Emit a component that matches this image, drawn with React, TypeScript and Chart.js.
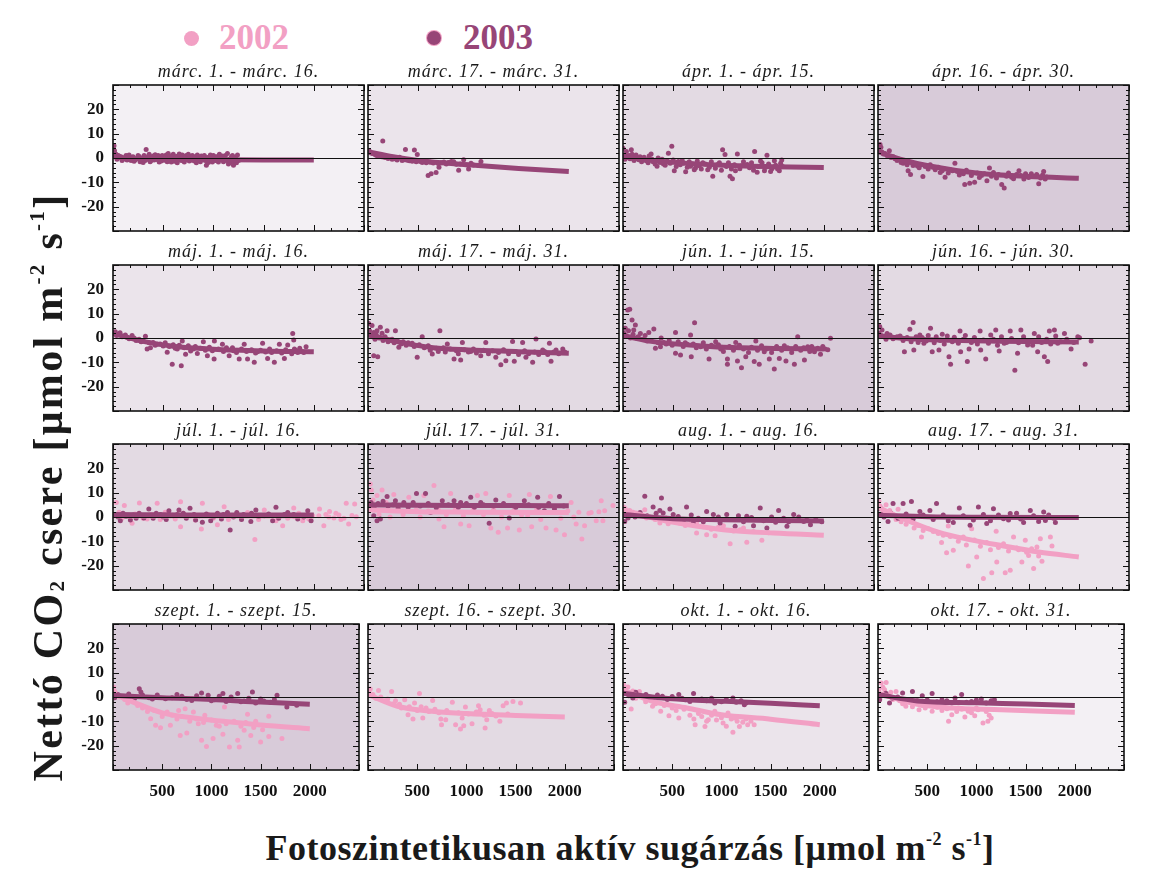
import React, { useEffect, useRef } from "react";
import { Chart, registerables } from "chart.js";
Chart.register(...registerables);

type Pt = [number, number];

const DARK = "#974577";
const PINK = "#f2a0c4";
const SERIF = '"Liberation Serif", "Times New Roman", serif';

const periods = [
  "márc. 1. - márc. 16.", "márc. 17. - márc. 31.", "ápr. 1. - ápr. 15.", "ápr. 16. - ápr. 30.",
  "máj. 1. - máj. 16.", "máj. 17. - máj. 31.", "jún. 1. - jún. 15.", "jún. 16. - jún. 30.",
  "júl. 1. - júl. 16.", "júl. 17. - júl. 31.", "aug. 1. - aug. 16.", "aug. 17. - aug. 31.",
  "szept. 1. - szept. 15.", "szept. 16. - szept. 30.", "okt. 1. - okt. 16.", "okt. 17. - okt. 31.",
];

const panelBg = [
  "#f3f0f4", "#ebe4eb", "#e3dae3", "#d8cbd9",
  "#ebe4eb", "#e3dae3", "#d8cbd9", "#e3dae3",
  "#e3dae3", "#d8cbd9", "#e3dae3", "#ebe4eb",
  "#d8cbd9", "#e3dae3", "#ebe4eb", "#f3f0f4",
];

const xTickLabels = [500, 1000, 1500, 2000];
const yTickLabels = [-20, -10, 0, 10, 20];

// ---- márc. 1-16
const p01_fit03: Pt[] = [[0,0.8],[100,0],[300,-0.4],[600,-0.6],[1000,-0.7],[1500,-0.8],[2000,-0.8]];
const p01_obs03: Pt[] = [[10,5],[15,3],[30,1.5],[50,1],[80,0.5],[100,-0.5],[130,1],[150,0],[180,-1],[200,0.5],[220,-0.8],[250,1],[270,-1.5],[290,0],[300,-1.8],[330,3.5],[350,0.5],[380,-1],[400,0.8],[430,-0.5],[450,1],[480,-1.2],[500,0.3],[530,1.2],[560,-0.8],[600,1.5],[620,-0.5],[650,0.8],[680,-1],[700,0.5],[730,1],[760,-1.2],[800,0],[830,-2],[860,0.5],[900,-0.5],[930,-3],[960,0.3],[1000,1],[1030,-0.8],[1070,0],[1100,-1.5],[1120,1],[1150,-2.5],[1180,0.5],[1200,-3],[1220,0.3],[1250,-1],
  [40,-0.5],[60,0.8],[90,-1],[120,0.2],[140,-0.8],[160,1.2],[190,0.3],[210,-1.3],[240,-0.2],[260,0.6],[280,-0.7],[310,1],[320,-1],[340,-0.3],[360,1.5],[370,-1.5],[390,0.2],[410,-0.8],[420,1.3],[440,0],[460,-1.6],[470,0.6],[490,1],[510,-0.9],[520,0.2],[540,-1.5],[550,1.8],[570,0.4],[580,-1.6],[590,0.9],[610,-1.3],[630,0.6],[640,-2],[660,1.6],[670,-0.2],[690,1.2],[710,-1.6],[720,0.2],[740,-0.6],[750,1.5],[770,0.4],[780,-0.8],[790,1],[810,-1.2],[820,0.5],[840,1.2],[850,-0.6],[870,-1.5],[880,0.8],[890,-0.2],[910,1],[920,-1],[940,0.2],[950,-1.8],[970,1.2],[980,-0.4],[990,-1.6],[1010,0.5],[1020,-1],[1040,0.6],[1050,-1.6],[1060,1.5],[1080,-0.5],[1090,0.8],[1110,-0.2],[1130,-1],[1140,1.8],[1160,-0.4],[1170,-1.8],[1190,1],[1210,-1.2],[1230,-2],[1240,1.2]];
// ---- márc. 17-31
const p02_fit03: Pt[] = [[0,2.6],[250,0.5],[500,-1],[1000,-2.8],[1500,-4.3],[2000,-5.5]];
const p02_obs03: Pt[] = [[20,2.3],[69,1.4],[118,1],[147,7],[216,0.5],[314,0.3],[373,3.5],[412,-1.1],[462,3.3],[491,1.4],[560,-1.1],[599,-7.2],[629,-6.5],[678,-6],[707,-3.8],[756,-1.6],[830,-1.4],[854,-1.5],[903,-5],[953,-0.7],[1002,-4.5],[1026,-2.2],[1125,-1.4],
  [10,3],[35,2],[50,1.8],[85,1],[100,0.8],[135,0.5],[160,0.3],[180,0.2],[200,-0.2],[240,-0.5],[260,-0.3],[290,-0.8],[340,-1],[360,-0.7],[390,-0.9],[440,-1.3],[480,-1.5],[520,-1.4],[540,-1.8],[580,-2],[620,-1.7],[650,-2.1],[700,-2.3],[730,-2],[780,-2.5],[800,-1.9],[880,-2.6],[920,-2.5],[980,-2.8],[1050,-2.9],[1100,-3]];
// ---- ápr. 1-15
const p03_fit03: Pt[] = [[0,0.5],[250,-0.8],[500,-1.8],[1000,-3],[1500,-3.6],[2000,-3.9]];
const p03_obs03: Pt[] = [[0,4],[34,2.7],[83,3.4],[60,1],[120,0.5],[157,-0.7],[200,-0.2],[231,-1.1],[280,1.6],[300,-1.5],[339,-3.4],[403,-2.5],[452,2],[486,4.8],[511,-5.2],[550,-1.4],[600,-2.2],[624,-5.7],[673,-3.4],[722,-4.1],[795,-2],[844,-4.8],[894,-7.5],[943,-2.7],[992,3.4],[1016,1.4],[1066,-7.5],[1090,-8.5],[1139,1.6],[1164,-4.4],[1237,-2.7],[1311,2.7],[1336,-5.9],[1385,-2],[1409,-5.2],[1434,1.1],[1483,-4.4],[1508,-1.1],[1557,-5.2],[1581,-0.8],
  [10,1],[20,-0.5],[40,0.8],[70,-0.3],[90,1.5],[110,-1],[130,1.2],[145,-0.2],[170,0.5],[185,-1.5],[210,0.3],[250,-2],[260,0.8],[290,-0.5],[320,-2.5],[350,0],[370,-1.8],[390,-0.5],[420,-3],[440,-1.2],[470,-2.2],[500,-0.8],[530,-3.5],[570,-2.8],[590,-1],[640,-3.8],[660,-1.5],[690,-2.5],[710,-4.8],[740,-1.2],[760,-3.2],[780,-4.5],[820,-2.5],[860,-3.8],[880,-1.5],[920,-4.2],[960,-2],[980,-5],[1030,-3.5],[1050,-2],[1080,-4.5],[1110,-2.8],[1120,-5.2],[1180,-3.2],[1200,-1.5],[1260,-4],[1280,-2],[1300,-5],[1350,-3.5],[1370,-1.2],[1420,-3.8],[1450,-2.5],[1470,-5.5],[1520,-3],[1540,-4.5],[1570,-2.2],[1590,-3.5]];
// ---- ápr. 16-30
const p04_fit03: Pt[] = [[0,2.6],[250,-0.8],[500,-3.2],[1000,-6.3],[1500,-7.6],[2000,-8.3]];
const p04_obs03: Pt[] = [[20,5.5],[29,4.4],[54,1.6],[113,3],[152,0.5],[250,-2.2],[300,-5.2],[324,-6.8],[349,-3.1],[393,-3.3],[447,-7.6],[545,-3.8],[638,-5.2],[668,-7.9],[741,-5.2],[766,-2.2],[834,-5.9],[864,-10.9],[913,-10.4],[962,-10],[1031,-7.2],[1085,-9.3],[1110,-4.1],[1232,-10.9],[1257,-12.3],[1331,-7.9],[1380,-6.8],[1404,-5.2],[1453,-8.6],[1527,-6.5],[1601,-10.6],[1650,-5.5],[1665,-8.6],
  [10,3],[40,2.5],[70,1.8],[90,1],[130,0.2],[170,-0.3],[190,-1],[210,-0.5],[230,-1.8],[270,-1.2],[290,-2.8],[320,-1.8],[370,-2.5],[410,-4],[430,-2.8],[470,-3.5],[500,-4.5],[520,-2.8],[570,-4.8],[600,-3.8],[620,-6],[660,-4.5],[700,-6.2],[720,-4.8],[790,-5.5],[810,-7],[850,-6.5],[880,-5],[930,-7.2],[990,-6.2],[1010,-8],[1060,-6.5],[1130,-7.5],[1150,-6],[1180,-8.2],[1200,-6.8],[1280,-7.5],[1300,-6.2],[1350,-8.5],[1420,-7.2],[1470,-6.5],[1500,-8],[1550,-7.5],[1580,-6.8],[1620,-8.2],[1640,-7],[1680,-7.8]];
// ---- máj. 1-16
const p05_fit03: Pt[] = [[0,1.9],[300,-1.4],[600,-3.4],[1000,-4.6],[1500,-5.3],[2000,-5.6]];
const p05_obs03: Pt[] = [[23,2.6],[57,1.5],[123,1.2],[190,1],[323,0.7],[340,-4.5],[373,-4],[440,-2.6],[540,-5.9],[590,-10.8],[640,-4.5],[680,-11.4],[690,-1.2],[723,-6.7],[773,-5.3],[840,-6.4],[900,-1.5],[940,-7.3],[1007,-8.6],[1010,-1.2],[1090,-2.6],[1157,-7.3],[1190,-4],[1257,-8.6],[1307,-2.6],[1340,-8.6],[1407,-10],[1440,-5.6],[1490,-2.2],[1540,-8.4],[1607,-10],[1657,-2.6],[1707,-8.4],[1740,-2.9],[1790,1.9],[1800,-0.8],[1807,-4.5],[1923,-3.6],
  [10,2],[35,1],[70,2.2],[90,0.5],[140,0.3],[160,-0.3],[210,0],[230,-1],[260,-0.5],[280,-1.5],[300,-1],[360,-2],[400,-1.8],[420,-3],[470,-2.5],[500,-3.3],[520,-2],[560,-3.5],[600,-2.8],[620,-4.2],[660,-3],[710,-4],[750,-3.2],[800,-4.5],[820,-3.5],[870,-4.2],[920,-5],[960,-3.8],[990,-5.2],[1050,-4.5],[1100,-5.5],[1130,-4],[1200,-5.2],[1230,-6],[1280,-4.5],[1330,-5.5],[1380,-4.8],[1420,-6.2],[1470,-5],[1520,-5.8],[1560,-4.5],[1580,-6],[1630,-5.2],[1680,-6.2],[1720,-4.8],[1760,-5.5],[1780,-6.5],[1820,-5],[1840,-6],[1860,-4.2],[1880,-5.5],[1900,-6]];
// ---- máj. 17-31
const p06_fit03: Pt[] = [[0,1.5],[300,-1.6],[650,-4],[1000,-4.9],[1500,-5.6],[2000,-6.3]];
const p06_obs03: Pt[] = [[7,6],[40,5.1],[57,2.3],[57,-7.3],[90,3],[97,-7.7],[123,4.4],[190,3],[223,-0.8],[273,3],[307,-3.8],[440,-2.2],[490,-7.9],[540,0.5],[640,-6.6],[716,3],[790,-2.5],[857,-8.6],[923,-9],[940,-1.8],[1023,-5.5],[1123,-7.3],[1173,-1.8],[1273,-7.9],[1323,-11],[1373,-9.3],[1440,-1.4],[1457,-9.6],[1540,-1.8],[1573,-7.9],[1640,-10],[1673,-0.4],[1740,-4.9],[1807,-2.2],[1823,-9.6],[1873,-4.9],[1940,-4.5],
  [15,3],[25,1],[45,0.5],[70,-0.5],[80,1.5],[110,0],[140,2],[150,-1],[170,0.5],[200,-1.5],[240,-0.5],[260,-2],[290,-1],[330,-2.5],[350,-1.5],[380,-3],[400,-2],[460,-3.5],[510,-2.8],[560,-4],[600,-3.2],[620,-5],[680,-4.2],[700,-5.5],[750,-4],[770,-5.8],[820,-4.5],[880,-5.2],[900,-6.5],[960,-4.8],[1000,-5.8],[1050,-4.5],[1080,-6.2],[1150,-5],[1200,-6.5],[1240,-5.2],[1300,-6],[1350,-4.8],[1400,-6.5],[1470,-5.5],[1500,-6.8],[1560,-5.2],[1600,-6.5],[1660,-5.8],[1700,-6.8],[1760,-5.5],[1790,-6.8],[1850,-5.8],[1900,-6.5],[1960,-5.8]];
// ---- jún. 1-15
const p07_fit03: Pt[] = [[0,1],[300,-1.5],[700,-3],[1000,-3.8],[1500,-4.3],[2000,-4.5]];
const p07_obs03: Pt[] = [[23,4],[47,11.5],[67,11.8],[90,7.4],[107,3.3],[123,5.3],[140,-0.1],[173,1.9],[240,-1.2],[257,2.3],[307,3.7],[323,-4.2],[373,-3.6],[407,-1.8],[523,2.3],[523,-6.3],[573,-7],[640,-2.6],[673,1.2],[680,-7.7],[713,6.3],[773,-3.6],[857,-8.6],[923,-1.5],[973,-4.5],[1040,-8.6],[1040,-10.8],[1123,-1.8],[1140,-9.5],[1180,-12.2],[1223,-7.7],[1307,-9.7],[1323,-1.2],[1357,-10.8],[1407,-5.6],[1457,-8.6],[1507,-12.7],[1557,-8.4],[1607,-3.2],[1623,-9.5],[1707,-10.8],[1740,0.5],[1807,-9],[1840,-3.6],[1907,-5.6],[1967,-6.7],[2013,-4.5],[2067,-0.1],
  [10,2],[30,1],[55,3],[75,0],[100,1.5],[150,0.5],[200,-0.5],[220,1],[280,-1],[350,-2],[380,0],[430,-2.5],[460,-1],[490,-3],[550,-1.5],[600,-3.5],[620,-2],[700,-2.5],[730,-4],[800,-2],[830,-4.5],[880,-3],[950,-2.8],[1000,-5.5],[1060,-3.5],[1100,-5],[1160,-3],[1200,-4.5],[1250,-6],[1280,-3.8],[1340,-5],[1380,-3.2],[1430,-4.5],[1480,-6],[1530,-3.5],[1580,-5],[1640,-4],[1680,-6],[1720,-3.5],[1770,-5],[1800,-4],[1860,-5.5],[1880,-3.5],[1940,-4.2],[1990,-3.5],[2040,-4.8]];
// ---- jún. 16-30
const p08_fit03: Pt[] = [[0,1],[300,-0.3],[700,-0.9],[1200,-1.3],[2000,-1.6]];
const p08_obs03: Pt[] = [[17,4.7],[40,3.3],[90,1.9],[190,0.5],[263,-5.6],[317,3.6],[350,6.4],[357,-4.9],[417,1.2],[457,-2.2],[523,4],[540,-5.6],[607,-4.9],[640,1.5],[707,-7.7],[723,-10.8],[817,2.9],[823,-5.6],[890,-9.7],[907,-4.5],[1017,2.9],[1023,-4.9],[1073,-8.6],[1123,1.2],[1173,3.3],[1207,-5.3],[1257,-2.2],[1317,2.9],[1363,-13.3],[1390,-6.3],[1423,3.3],[1490,-2.9],[1557,1.9],[1590,-5.6],[1657,-7.7],[1690,-9.7],[1707,2.9],[1757,3.3],[1790,-2.2],[1857,1.9],[1923,-4.5],[2007,0.1],[2063,-10.8],[2123,-1.2],
  [10,2],[30,1],[60,0.5],[80,-0.5],[120,1.2],[150,-0.3],[220,0.8],[250,-1],[290,0.2],[330,-1.5],[380,0.5],[400,-1.8],[440,0.2],[480,-1.2],[500,1],[560,-2],[580,0.5],[620,-1],[660,-2.5],[690,0.8],[740,-1.5],[760,0.3],[800,-2.2],[850,-0.5],[870,1],[930,-1.8],[960,0.2],[990,-2.5],[1050,-0.8],[1100,-2.2],[1150,-0.5],[1190,-3],[1230,0.5],[1280,-1.8],[1330,-0.2],[1400,-2],[1450,0.5],[1520,-1.5],[1540,-3],[1600,0.5],[1630,-1.8],[1680,-0.5],[1720,-2.5],[1770,0.8],[1820,-1.5],[1880,-0.5],[1950,-1.8],[1990,0.5]];
// ---- júl. 1-16
const p09_fit03: Pt[] = [[0,1],[500,0.9],[1000,0.8],[1500,0.8],[2000,0.8]];
const p09_obs03: Pt[] = [[73,-1.5],[173,-1.2],[307,-0.4],[357,3.3],[473,1],[557,2.6],[640,1],[657,2.9],[767,3.6],[807,1],[823,-1.2],[890,-2.2],[973,-1.5],[1040,1.5],[1140,1.9],[1167,-5.3],[1233,1.9],[1373,-1.8],[1380,1.5],[1423,2.9],[1507,0.5],[1590,-1.5],[1623,4],[1707,1],[1740,1.9],[1840,-0.8],[1940,2.6],[1973,-1.5],
  [20,1],[50,0],[100,1.5],[130,0.2],[200,0.8],[230,-0.5],[260,1.5],[330,0.5],[400,-0.5],[430,1.5],[500,0],[530,-1],[600,0.5],[700,1.5],[730,-0.5],[860,0.5],[930,1.2],[1000,0],[1080,-0.8],[1100,1],[1200,0],[1280,-1],[1300,1],[1450,0.2],[1550,1.2],[1650,-0.5],[1800,1],[1900,0]];
const p09_fit02: Pt[] = [[0,0.5],[1000,0.4],[2000,0.4]];
const p09_obs02: Pt[] = [[33,6],[113,4.7],[173,-0.4],[190,-2.6],[263,5.8],[340,-0.8],[440,5.6],[573,0.5],[673,6.3],[673,-4],[773,0.5],[880,-4.9],[890,5.6],[1040,-3.2],[1107,4.2],[1233,1.2],[1340,1.9],[1413,-9.2],[1507,2.9],[1623,-1.5],[1690,-3.6],[1800,3.7],[1807,0.1],[1890,-1.5],[1990,0.5],[2050,0.5],[2057,3.3],[2100,-3.6],[2120,1],[2157,2.3],[2200,-0.4],[2250,0.8],[2300,-0.5],[2323,5.6],[2347,-2.9],[2380,0.6],[2407,5.3],[2423,0.1],
  [10,1],[60,2],[90,-0.5],[140,0.8],[220,1.2],[300,-0.5],[380,1],[470,-1],[520,2],[620,-0.8],[700,1.5],[820,-1.2],[950,1],[1000,-0.5],[1150,-1],[1280,-0.2],[1450,-1],[1550,1],[1650,0.5],[1740,-0.5],[1850,1.5],[1950,-0.8],[2150,0],[2220,1.5],[2270,-1]];
// ---- júl. 17-31
const p10_fit03: Pt[] = [[0,5],[500,4.8],[1000,4.7],[1500,4.7],[2000,4.6]];
const p10_obs03: Pt[] = [[23,3.3],[57,0.5],[90,-1.5],[123,-0.8],[190,8.4],[273,6.7],[357,6],[483,9.7],[573,9.7],[623,1.9],[740,6.7],[857,6.7],[923,6],[1023,8.1],[1123,6],[1207,-2.6],[1273,7],[1407,-0.4],[1473,4],[1557,6.7],[1690,8.1],[1757,2.6],[1857,3.3],[1907,8.4],
  [30,6],[60,4],[100,5.5],[150,6.5],[200,4.5],[250,5],[300,3.5],[400,4],[450,6],[520,4.5],[600,5.5],[680,3.8],[800,5],[900,4],[980,5.5],[1060,4],[1150,5],[1250,4.5],[1350,5.5],[1450,4.5],[1600,5],[1700,4],[1800,5.5],[1950,4.5]];
const p10_fit02: Pt[] = [[0,3],[500,2.2],[1000,2],[2000,1.8]];
const p10_obs02: Pt[] = [[23,13.6],[33,11.1],[90,8.8],[140,11.1],[257,9.2],[407,8.1],[423,2.3],[557,8.8],[640,4.7],[657,12.9],[707,-0.8],[757,-4],[823,9.7],[923,-2.9],[1007,-3.6],[1090,8.8],[1090,1.9],[1173,9.7],[1223,-4.5],[1297,-6.3],[1390,-4.5],[1407,8.8],[1507,-5.3],[1590,0.5],[1607,9.2],[1630,-4],[1773,-4.5],[1817,8.4],[1873,-5.3],[1957,-7.3],[2023,6],[2073,-2.9],[2100,2],[2130,-9],[2157,-3.6],[2200,1.5],[2223,1.9],[2273,-1.5],[2300,2.2],[2323,6.7],[2340,-1.5],[2357,2.6],[2440,4.7],
  [10,5],[50,7],[70,3],[110,1],[180,6],[220,0],[300,4],[350,1],[480,3],[520,0],[600,2.5],[700,3],[780,1],[870,3],[950,0.5],[1050,3.5],[1150,1],[1250,3],[1330,0],[1450,2.5],[1530,0.8],[1680,3],[1720,-1],[1850,2],[1920,-0.5],[1990,2.5],[2050,0]];
// ---- aug. 1-16
const p11_fit03: Pt[] = [[0,1],[500,-0.7],[1000,-1.1],[1500,-1.4],[2000,-1.6]];
const p11_obs03: Pt[] = [[17,-1.8],[50,-0.4],[217,8.5],[300,4.1],[367,2.7],[383,7.8],[400,1.6],[467,3.3],[500,1],[633,4.1],[700,-2.5],[833,2.3],[900,1],[967,-2.5],[1033,1],[1117,-3.8],[1233,0.3],[1300,-3.6],[1367,3.7],[1433,-4.5],[1550,2.7],[1633,-3.8],[1700,1],[1800,-1.8],[1867,-3.2],
  [30,0.5],[80,1.5],[120,0],[170,1.8],[240,0.5],[330,1.5],[430,-0.5],[550,0.2],[600,-1.5],[680,0.8],[750,-0.5],[800,-2],[950,0],[1080,-1],[1150,0.5],[1200,-2],[1280,-0.2],[1400,-1.5],[1480,0],[1520,-2.2],[1600,-0.5],[1650,-2],[1750,0],[1830,-1.2],[1920,-1],[1980,-2]];
const p11_fit02: Pt[] = [[0,3],[300,-0.4],[650,-3.2],[1000,-5.2],[1500,-6.6],[2000,-7.5]];
const p11_obs02: Pt[] = [[7,4.1],[67,2.7],[133,1.6],[217,3],[233,-0.4],[367,-2.5],[500,-1.1],[733,-6.6],[733,-2.5],[833,-7.3],[917,-7.7],[1000,-3.6],[1067,-11],[1167,-5.2],[1233,-10.4],[1383,-9.6],
  [20,3.5],[40,1.8],[100,2],[150,0.5],[180,1.2],[270,0],[320,-1],[420,-1.5],[450,-2.8],[560,-2.5],[620,-3.5],[680,-2.2],[800,-4],[880,-5],[950,-4.2],[1100,-5.8],[1200,-4.5],[1300,-6],[1450,-6.5]];
// ---- aug. 17-31
const p12_fit03: Pt[] = [[0,0.7],[500,0.1],[1000,-0.1],[2000,-0.2]];
const p12_obs03: Pt[] = [[17,3.4],[100,-1.8],[150,5.5],[250,5.5],[333,6.4],[417,2.3],[517,2.7],[583,5.5],[750,-2.3],[810,3.7],[917,-3.4],[1000,4.1],[1083,-2.7],[1150,3.4],[1250,-0.7],[1317,1.4],[1450,-2.3],[1517,2.7],[1650,2.1],[1667,-1.4],[1767,-2.3],
  [30,1],[60,0],[130,1.5],[200,-0.5],[280,1.2],[350,-0.8],[450,0.8],[550,-1],[650,0.8],[700,-1.5],[850,0.5],[950,-1.2],[1050,1],[1120,-1.5],[1200,0.8],[1300,-1.2],[1380,1.5],[1420,-0.8],[1550,0.5],[1600,-1.8],[1700,0.8],[1750,-0.5]];
const p12_fit02: Pt[] = [[0,4],[250,-0.7],[600,-6.2],[900,-9.2],[1250,-11.9],[1600,-14.4],[2000,-16.4]];
const p12_obs02: Pt[] = [[10,6.4],[33,3.7],[117,2.7],[200,3.2],[433,-8.2],[500,-4.8],[600,-6.8],[633,-10.5],[683,-14.7],[700,-3.7],[750,-13.7],[850,-8.2],[900,-20.1],[933,-4.8],[983,-16.4],[1050,-25.3],[1083,-10.5],[1133,-22.9],[1177,-5.9],[1183,-18.5],[1250,-11],[1267,-22.9],[1317,-21.9],[1350,-8.2],[1383,-12.7],[1433,-18.5],[1467,-9.6],[1500,-15.8],[1550,-21.2],[1583,-12.3],[1617,-8.9],[1633,-18.2],[1717,-8.2],[1733,-11.9],
  [20,4.5],[50,2],[80,5],[150,1],[180,-1],[230,-2],[280,-3],[320,-1.5],[360,-4.5],[400,-3.5],[450,-5.5],[550,-6],[650,-7.5],[720,-8],[800,-10],[880,-11.5],[960,-9.5],[1020,-12],[1120,-13.5],[1200,-12.5],[1300,-14],[1400,-13.5],[1480,-14.5],[1530,-13],[1600,-16]];
// ---- szept. 1-15
const p13_fit03: Pt[] = [[0,0.7],[500,-0.3],[1000,-1],[1500,-2.1],[2000,-3]];
const p13_obs03: Pt[] = [[17,-0.3],[267,3.4],[283,2.1],[367,-0.3],[533,-0.7],[700,0.3],[800,-1.4],[900,1.6],[967,0.7],[1033,-1.1],[1117,1.4],[1267,1.4],[1333,-1.6],[1417,2.1],[1533,-1.6],[1667,0.7],[1767,-4.1],[1867,-3.4],
  [50,1],[100,0],[160,1.2],[220,-0.5],[300,0.8],[400,-0.8],[450,0.8],[600,-0.3],[650,1],[750,-1],[850,0.5],[1000,-1.5],[1080,0.3],[1150,-1.8],[1200,0],[1300,-2],[1380,-0.5],[1450,-2.5],[1500,-0.8],[1600,-2.2],[1640,-1]];
const p13_fit02: Pt[] = [[0,1.4],[200,-2],[500,-6.5],[900,-9],[1200,-10.3],[1500,-11.5],[2000,-13]];
const p13_obs02: Pt[] = [[7,4.1],[27,1.6],[200,-1.1],[383,-8.9],[433,-11.6],[483,-12.6],[550,-6.2],[583,-11.6],[667,-5.5],[683,-15.8],[733,-4.8],[750,-14.8],[817,-6.2],[867,-11],[900,-17.8],[933,-7.5],[950,-20.3],[1017,-17.1],[1050,-11.6],[1117,-15.3],[1133,-4.1],[1183,-20.5],[1200,-1.4],[1267,-17.8],[1283,-20.5],[1333,-13.7],[1367,-7.1],[1400,-15.8],[1500,-18.5],[1583,-7.9],[1583,-16.2],[1717,-17.1],
  [15,2.5],[60,0],[120,-1],[150,-2.5],[250,-3.5],[300,-4.5],[350,-6],[420,-5.5],[500,-8],[600,-7.5],[650,-9],[700,-8],[780,-10],[850,-9],[920,-10.5],[1000,-9.5],[1080,-12],[1150,-11],[1230,-10],[1300,-12],[1350,-10.5],[1430,-12.5],[1450,-10],[1520,-13.5]];
// ---- szept. 16-30
const p14_fit02: Pt[] = [[0,1],[300,-3.8],[650,-5.9],[1000,-6.8],[1500,-7.6],[2000,-8.2]];
const p14_obs02: Pt[] = [[23,3.3],[107,2.7],[240,2.3],[373,-1.1],[407,-7.3],[457,-9],[473,-2.5],[523,1.4],[557,-8.6],[590,-4.5],[657,-1.4],[740,-9],[747,-11.4],[790,-9.3],[857,-2.2],[890,-11.4],[940,-13.2],[957,-8.6],[973,-11.8],[990,-4.1],[1057,-11],[1123,-3.6],[1140,-5.2],[1190,-12.7],[1207,-9.3],[1233,-5.5],[1340,-10],[1373,-3.6],[1407,-2.5],[1473,-1.8],[1550,-2.5],
  [10,2],[50,1],[80,-0.5],[130,0],[170,-1.5],[200,-0.8],[260,-2.8],[280,-1.5],[320,-3],[340,-4.5],[420,-4],[500,-5.5],[540,-4],[620,-6],[680,-5],[720,-6.5],[800,-5.5],[920,-6.5],[1020,-7],[1100,-6.2],[1180,-7.5],[1260,-6.8],[1300,-7.8],[1420,-7]];
// ---- okt. 1-16
const p15_fit03: Pt[] = [[0,1.6],[300,0],[650,-1.1],[1000,-1.7],[1500,-2.6],[2000,-3.6]];
const p15_obs03: Pt[] = [[17,-2.2],[100,-0.4],[233,1],[400,0.3],[567,1],[633,-1.1],[717,1.4],[800,-0.8],[933,-2.5],[1117,-0.4],[1233,-3.2],
  [30,1.5],[60,0.5],[130,2],[170,0.5],[300,-0.5],[350,0.8],[450,-1],[500,0.2],[600,-0.5],[680,-1.8],[750,-1],[850,-1.5],[900,-0.5],[1000,-2],[1050,-1],[1150,-2.2],[1200,-1.5],[1250,-2.5]];
const p15_fit02: Pt[] = [[0,3],[300,-1.8],[650,-4.5],[1000,-7.3],[1500,-9.1],[2000,-11.4]];
const p15_obs02: Pt[] = [[7,5.1],[50,4.1],[83,-4.9],[167,2.3],[300,-3.8],[383,-5.9],[467,-7.7],[567,-8.6],[733,-11.4],[767,-6.8],[833,-12.1],[867,-9.3],[933,-5.9],[1017,-10.7],[1067,-6.6],[1117,-14.5],[1133,-8.6],[1183,-12.1],[1217,-10.4],[1267,-11.4],[1333,-11.4],
  [15,3.5],[30,2],[70,1],[100,2.5],[130,-0.5],[200,0],[230,-2],[260,-1],[330,-2.8],[420,-3.5],[500,-4.5],[540,-5.5],[620,-5],[680,-7.5],[720,-9],[800,-8],[850,-10],[900,-7.5],[950,-9.5],[1000,-8.5],[1050,-12],[1100,-9],[1160,-10],[1250,-9],[1300,-10]];
// ---- okt. 17-31
const p16_fit03: Pt[] = [[0,1],[400,-1.6],[1000,-2.4],[1500,-2.9],[2000,-3.5]];
const p16_obs03: Pt[] = [[17,-1.1],[117,-2.5],[250,1.6],[350,2.3],[550,1.4],[650,-1.1],[750,-2.5],[783,-0.4],[850,1],[950,-1.8],[1050,-0.8],[1183,-1.1],
  [40,0.5],[80,1.5],[150,-0.5],[200,0],[300,-1],[400,-1.5],[450,0.5],[500,-1.2],[600,-2],[700,-1.5],[900,-2.2],[1000,-1.2],[1100,-2.5],[1150,-1.5]];
const p16_fit02: Pt[] = [[0,1.6],[400,-3],[750,-4.5],[1250,-5.2],[2000,-6.3]];
const p16_obs02: Pt[] = [[33,5.8],[67,3],[83,6],[183,2.3],[283,-3.8],[417,-5.2],[550,-5.9],[583,-2.5],[717,-10],[750,-7.3],[817,-4.5],[883,-8.2],[917,-5.9],[983,-7.7],[1017,-5.2],[1067,-10.7],[1117,-10],[1150,-8.6],
  [10,3],[20,1],[50,4],[100,0.5],[130,2],[150,-1],[220,-1.5],[250,-2.8],[320,-2],[350,-4],[450,-3.5],[480,-4.5],[600,-4.2],[650,-5.5],[700,-4.8],[800,-6],[850,-5],[950,-6.5],[1000,-4.5],[1100,-6],[1130,-7.5]];

const fit2003: (Pt[] | null)[] = [p01_fit03, p02_fit03, p03_fit03, p04_fit03, p05_fit03, p06_fit03, p07_fit03, p08_fit03, p09_fit03, p10_fit03, p11_fit03, p12_fit03, p13_fit03, null, p15_fit03, p16_fit03];
const obs2003: (Pt[] | null)[] = [p01_obs03, p02_obs03, p03_obs03, p04_obs03, p05_obs03, p06_obs03, p07_obs03, p08_obs03, p09_obs03, p10_obs03, p11_obs03, p12_obs03, p13_obs03, null, p15_obs03, p16_obs03];
const fit2002: (Pt[] | null)[] = [null, null, null, null, null, null, null, null, p09_fit02, p10_fit02, p11_fit02, p12_fit02, p13_fit02, p14_fit02, p15_fit02, p16_fit02];
const obs2002: (Pt[] | null)[] = [null, null, null, null, null, null, null, null, p09_obs02, p10_obs02, p11_obs02, p12_obs02, p13_obs02, p14_obs02, p15_obs02, p16_obs02];

const PANEL_LEFT = [113, 368, 623, 878];
const PANEL_TOP = [85, 265, 444, 624];
const PW = 251, PH = 146;
const ML = 60, MT = 28, MR = 6, MB = 42;

function Panel({ idx }: { idx: number }) {
  const ref = useRef<HTMLCanvasElement>(null);
  const row = Math.floor(idx / 4), col = idx % 4;
  useEffect(() => {
    if (!ref.current) return;
    const toXY = (a: Pt[]) => a.map(([x, y]) => ({ x, y }));
    const datasets: any[] = [];
    const f3 = fit2003[idx], f2 = fit2002[idx], o3 = obs2003[idx], o2 = obs2002[idx];
    if (f3) datasets.push({ type: "line", data: toXY(f3), borderColor: DARK, borderWidth: 5, pointRadius: 0, cubicInterpolationMode: "monotone", order: 0 });
    if (f2) datasets.push({ type: "line", data: toXY(f2), borderColor: PINK, borderWidth: 5, pointRadius: 0, cubicInterpolationMode: "monotone", order: 1 });
    if (o3) datasets.push({ type: "scatter", data: toXY(o3), backgroundColor: DARK, pointRadius: 2.5, pointBorderWidth: 0, order: 2 });
    if (o2) datasets.push({ type: "scatter", data: toXY(o2), backgroundColor: PINK, pointRadius: 2.5, pointBorderWidth: 0, order: 3 });

    const deco = {
      id: "deco",
      beforeDatasetsDraw(chart: any) {
        const { ctx, chartArea: a } = chart;
        ctx.save();
        ctx.fillStyle = panelBg[idx];
        ctx.fillRect(a.left, a.top, a.right - a.left, a.bottom - a.top);
        ctx.restore();
      },
      afterDatasetsDraw(chart: any) {
        const { ctx, chartArea: a } = chart;
        const xs = chart.scales.x, ys = chart.scales.y;
        ctx.save();
        ctx.strokeStyle = "#111";
        ctx.lineWidth = 1;
        const y0 = Math.round(ys.getPixelForValue(0)) + 0.5;
        ctx.beginPath(); ctx.moveTo(a.left, y0); ctx.lineTo(a.right, y0); ctx.stroke();
        ctx.beginPath();
        for (let k = 0; k <= 15; k++) {
          const px = Math.round(xs.getPixelForValue((k * 500) / 3)) + 0.5;
          const len = k % 3 === 0 ? 6 : 3;
          ctx.moveTo(px, a.bottom); ctx.lineTo(px, a.bottom - len);
          ctx.moveTo(px, a.top); ctx.lineTo(px, a.top + len);
        }
        for (let v = -30; v <= 30; v += 2) {
          const py = Math.round(ys.getPixelForValue(v)) + 0.5;
          const len = v % 10 === 0 ? 6 : 3;
          ctx.moveTo(a.left, py); ctx.lineTo(a.left + len, py);
          ctx.moveTo(a.right, py); ctx.lineTo(a.right - len, py);
        }
        ctx.stroke();
        ctx.lineWidth = 1.6;
        ctx.strokeRect(a.left, a.top, a.right - a.left, a.bottom - a.top);
        ctx.fillStyle = "#1a1a1a";
        ctx.font = `italic 18px ${SERIF}`;
        try { (ctx as any).letterSpacing = "1px"; } catch (e) {}
        ctx.textAlign = "center";
        ctx.textBaseline = "alphabetic";
        ctx.fillText(periods[idx], (a.left + a.right) / 2, a.top - 8);
        ctx.restore();
      },
    };

    const tickFont = { family: SERIF, size: 17, weight: "bold" as const };
    const chart = new Chart(ref.current, {
      type: "scatter",
      data: { datasets },
      options: {
        animation: false,
        responsive: false,
        events: [],
        layout: { padding: { top: MT, right: MR, left: 0, bottom: 0 } },
        plugins: { legend: { display: false }, tooltip: { enabled: false }, title: { display: false } },
        scales: {
          x: {
            type: "linear", min: 0, max: 2500,
            afterFit: (s: any) => { s.height = MB; },
            grid: { display: false, drawTicks: false }, border: { display: false },
            ticks: {
              display: row === 3, stepSize: 500, autoSkip: false, maxRotation: 0, minRotation: 0,
              padding: 11, color: "#111", font: tickFont,
              callback: (v: any) => (xTickLabels.includes(Number(v)) ? String(v) : ""),
            },
          },
          y: {
            type: "linear", min: -30, max: 30,
            afterFit: (s: any) => { s.width = ML; },
            grid: { display: false, drawTicks: false }, border: { display: false },
            ticks: {
              display: col === 0, stepSize: 10, autoSkip: false, padding: 9, color: "#111", font: tickFont,
              callback: (v: any) => (yTickLabels.includes(Number(v)) ? String(v) : ""),
            },
          },
        },
      } as any,
      plugins: [deco],
    });
    return () => chart.destroy();
  }, [idx]);
  return (
    <canvas
      ref={ref}
      width={ML + PW + MR}
      height={MT + PH + MB}
      style={{ position: "absolute", left: PANEL_LEFT[col] - ML, top: PANEL_TOP[row] - MT, width: ML + PW + MR, height: MT + PH + MB }}
    />
  );
}

const supStyle: React.CSSProperties = { fontSize: "0.5em", verticalAlign: "0.85em", lineHeight: 0 };
const subStyle: React.CSSProperties = { fontSize: "0.5em", verticalAlign: "-0.1em", lineHeight: 0 };

export default function App() {
  const base: React.CSSProperties = { color: "#1a1a1a", whiteSpace: "nowrap", position: "absolute", textAlign: "center" };
  return (
    <div style={{ position: "absolute", left: 0, top: 0, width: 1167, height: 888, background: "#fff", overflow: "hidden" }}>
      {periods.map((_, i) => <Panel key={i} idx={i} />)}
      <div style={{ position: "absolute", left: 184, top: 31, width: 15, height: 15, borderRadius: "50%", background: PINK }} />
      <div style={{ position: "absolute", left: 219, top: 20, font: `bold 35px ${SERIF}`, lineHeight: "35px", color: PINK }}>2002</div>
      <div style={{ position: "absolute", left: 427, top: 31, width: 14, height: 14, borderRadius: "50%", background: DARK, boxShadow: `0 0 0 1px ${PINK}` }} />
      <div style={{ position: "absolute", left: 463, top: 20, font: `bold 35px ${SERIF}`, lineHeight: "35px", color: DARK }}>2003</div>
      <div style={{ ...base, font: `bold 36px ${SERIF}`, lineHeight: "36px", letterSpacing: "0.5px", left: 130, top: 830, width: 1000 }}>
        Fotoszintetikusan aktív sugárzás [μmol m<span style={supStyle}>-2</span> s<span style={supStyle}>-1</span>]
      </div>
      <div style={{ ...base, font: `bold 42px ${SERIF}`, lineHeight: "42px", letterSpacing: "2.3px", left: 48 - 400, top: 487 - 21, width: 800, height: 42, transform: "rotate(-90deg)" }}>
        Nettó CO<span style={subStyle}>2</span> csere [μmol m<span style={supStyle}>-2</span> s<span style={supStyle}>-1</span>]
      </div>
    </div>
  );
}
